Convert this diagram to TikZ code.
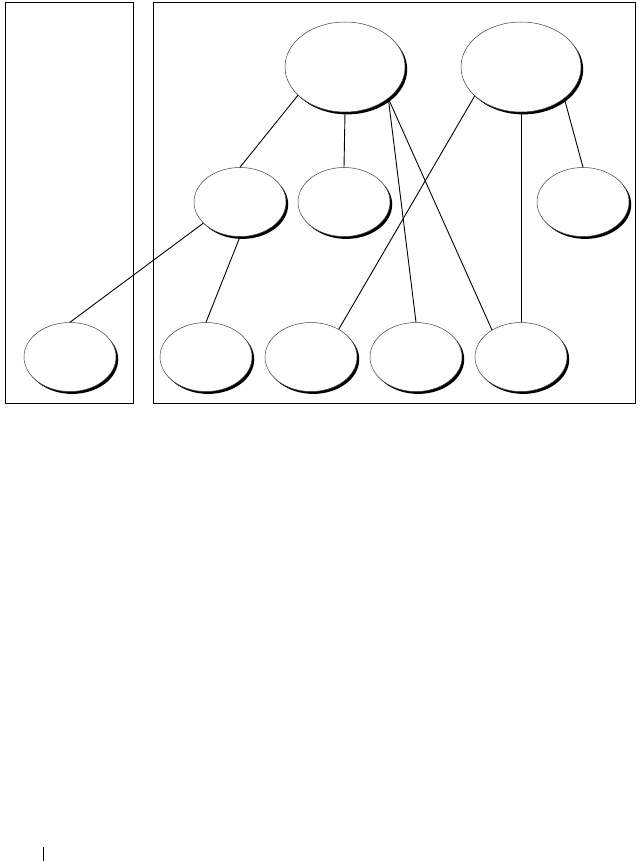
\documentclass[tikz,border=0pt]{standalone}
\usetikzlibrary{shapes.geometric,shadows}
\begin{document}
\begin{tikzpicture}[x=1pt,y=-1pt,
  oval/.style={ellipse,draw=black!75,line width=0.5pt,fill=white,inner sep=0pt,
    drop shadow={shadow xshift=2.2pt,shadow yshift=-2.4pt,fill=black,opacity=1}},
  bigoval/.style={oval,minimum width=120pt,minimum height=90pt},
  smalloval/.style={oval,minimum width=92pt,minimum height=69pt},
  link/.style={line width=0.9pt},
  frame/.style={draw,line width=1pt,inner sep=0pt}]
\useasboundingbox (0,0) rectangle (641,861);
% frames
\node[frame,minimum width=128pt,minimum height=400.5pt] (leftbox) at (69,202.75) {};
\node[frame,minimum width=482pt,minimum height=400pt] (rightbox) at (394,203) {};
% ovals
\node[bigoval] (top1) at (345,67) {};
\node[bigoval] (top2) at (521,67) {};
\node[smalloval] (mid1) at (240,202) {};
\node[smalloval] (mid2) at (344,202) {};
\node[smalloval] (mid3) at (583,202) {};
\node[smalloval] (b1) at (70,357) {};
\node[smalloval] (b2) at (206,357) {};
\node[smalloval] (b3) at (311,357) {};
\node[smalloval] (b4) at (416,357) {};
\node[smalloval] (b5) at (521,357) {};
% connectors
\draw[link] (top1.211) -- (mid1.north);
\draw[link] (top1.south) -- (mid2.north);
\draw[link] (top1.-36) -- (b4.north);
\draw[link] (top1.-36) -- (b5.137);
\draw[link] (top2.212) -- (b3.45);
\draw[link] (top2.south) -- (b5.north);
\draw[link] (top2.-36) -- (mid3.north);
\draw[link] (mid1.210) -- (b1.north);
\draw[link] (mid1.south) -- (b2.north);
% page marker
\coordinate (marktop) at (43.3,847);
\coordinate (markbot) at (43.3,861);
\draw[line width=1pt] (marktop) -- (markbot);
\end{tikzpicture}
\end{document}
